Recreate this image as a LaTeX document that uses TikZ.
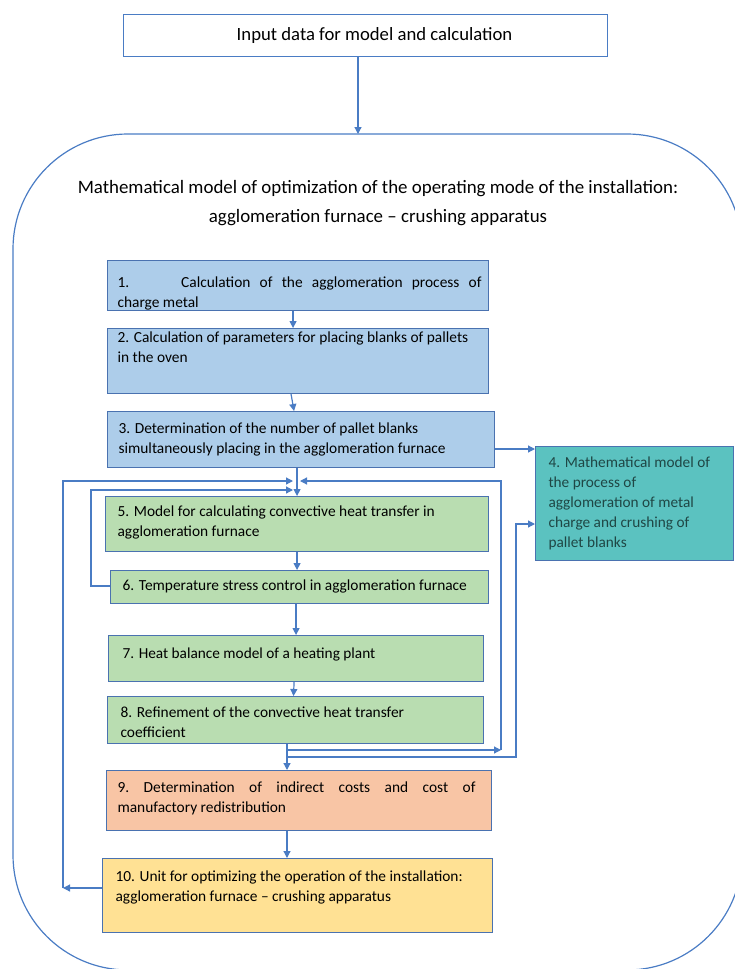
\documentclass[tikz,border=0pt]{standalone}
\usepackage{fontspec}
\setmainfont{Carlito}
\usetikzlibrary{arrows.meta}
\definecolor{ln}{HTML}{4A7CC4}
\definecolor{bd}{HTML}{4A72B0}
\definecolor{bbl}{HTML}{ADCDEA}
\definecolor{bgr}{HTML}{B9DDB1}
\definecolor{bte}{HTML}{5BC2C0}
\definecolor{bor}{HTML}{F8C5A5}
\definecolor{bye}{HTML}{FFE194}
\definecolor{tte}{HTML}{1F4745}
\tikzset{
  box/.style={draw=bd,line width=1.1pt,inner sep=0pt},
  arr/.style={draw=ln,line width=1.2pt,-{Triangle[length=7pt,width=7pt]}},
}
\newcommand\fs[1]{\fontsize{#1}{20}\selectfont}
% name, fill, x, y, w, h, leftpad, toppad, text
\newcommand\bx[9]{\node[box,fill=#2,anchor=north west,minimum width=#5pt,minimum height=#6pt] (#1) at (#3,#4) {\makebox[#5pt][l]{\hspace*{#7pt}\parbox[c][#6pt][t]{\dimexpr#5pt-#7pt-1pt\relax}{\parindent=0pt\raggedright\vspace*{#8pt}\noindent#9}}};}
\begin{document}
\begin{tikzpicture}[x=1pt,y=-1pt]
\useasboundingbox (0,0) rectangle (735,969);
\clip (0,0) rectangle (735,969);
% outer rounded frame
\draw[ln,line width=1.2pt,rounded corners=115pt] (13,134) rectangle (742,970);
\coordinate (bigtop) at (358,134);
% top box
\node[draw=ln,line width=1.1pt,fill=white,minimum width=484pt,minimum height=42pt,inner sep=0pt,font=\fontsize{18.7}{22}\selectfont,anchor=north west] (top) at (123,14) {\makebox[484pt]{\hspace*{18pt}Input data for model and calculation}};
% title
\node[align=center,font=\fontsize{18.9}{29}\selectfont] (title) at (378,203) {Mathematical model of optimization of the operating mode of the installation:\\ agglomeration furnace – crushing apparatus};
% boxes
\bx{b1}{bbl}{107}{260}{381}{50}{10}{16}{\fs{15.4}\makebox[364pt][s]{1.\hspace{52pt}Calculation of the agglomeration process of}\\charge metal}
\bx{b2}{bbl}{107}{328}{381}{65}{10}{3.5}{\fs{15.4}2. Calculation of parameters for placing blanks of pallets\\in the oven}
\bx{b3}{bbl}{107}{411}{387}{56}{11}{11.5}{\fs{15.4}3. Determination of the number of pallet blanks\\simultaneously placing in the agglomeration furnace}
\bx{b5}{bgr}{105}{496}{383}{55}{12}{9.5}{\fs{15.4}5. Model for calculating convective heat transfer in\\agglomeration furnace}
\bx{b6}{bgr}{110}{570}{378}{33}{12}{9}{\fs{15.4}6. Temperature stress control in agglomeration furnace}
\bx{b7}{bgr}{108}{635}{375}{46}{14}{12}{\fs{15.3}7. Heat balance model of a heating plant}
\bx{b8}{bgr}{107}{696}{376}{47}{13}{10.5}{\fs{15.4}8. Refinement of the convective heat transfer\\coefficient}
\bx{b9}{bor}{106}{770}{385}{60}{11}{11}{\fs{15.4}\makebox[358pt][s]{9.\ Determination of indirect costs and cost of}\\manufactory redistribution}
\bx{b10}{bye}{102}{858}{390}{74}{13}{12.5}{\fs{15.4}10. Unit for optimizing the operation of the installation:\\agglomeration furnace – crushing apparatus}
\node[box,fill=bte,text=tte,anchor=north west,minimum width=198pt,minimum height=114pt] (b4) at (535,446) {\makebox[198pt][l]{\hspace*{13pt}\parbox[c][114pt][t]{182pt}{\fs{15.3}\raggedright\vspace*{10pt}\noindent 4. Mathematical model of\\the process of\\agglomeration of metal\\charge and crushing of\\pallet blanks}}};
% junction coordinates
\coordinate (c34) at (0,449);
\coordinate (jl1) at (293,481);
\coordinate (jl2) at (293,490);
\coordinate (jr1) at (300,481);
\coordinate (x8) at (287,0);
\coordinate (r1) at (501,750);
\coordinate (r2) at (516,757);
\coordinate (s1) at (287,750);
\coordinate (s2) at (287,757);
\coordinate (L10) at (63,888);
\coordinate (L6) at (91,586);
\coordinate (c4) at (0,524);
% connectors
\draw[arr] (top.south -| bigtop) -- (bigtop);
\draw[arr] ([xshift=-5pt]b1.south) -- ([xshift=-5pt]b2.north);
\draw[arr] ([xshift=-7pt]b2.south) -- ([xshift=-7pt]b3.north);
\draw[arr] (b3.south -| b5.north) -- (b5.north);
\draw[arr] (b3.east |- c34) -- (b4.west |- c34);
\draw[arr] (b5.south) -- (b5.south |- b6.north);
\draw[arr] (b6.south -| b7.north) -- (b7.north);
\draw[arr] ([xshift=-2pt]b7.south) -- ([xshift=-2pt]b8.north);
\draw[arr] (b8.south -| x8) -- (b9.north -| x8);
\draw[arr] (b9.south -| x8) -- (b10.north -| x8);
% left loops
\draw[arr] (b6.west |- L6) -- (L6) |- (jl2);
\draw[arr] (b10.west |- L10) -- (L10);
\draw[arr] (L10) |- (jl1);
% right loops
\draw[arr] (s1) -- (r1);
\draw[arr] (r1) |- (jr1);
\draw[arr] (s2) -- (r2) |- (b4.west |- c4);
\end{tikzpicture}
\end{document}
